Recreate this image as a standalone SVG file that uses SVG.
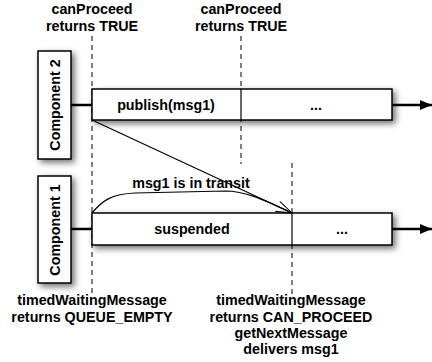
<svg xmlns="http://www.w3.org/2000/svg" width="432" height="362" viewBox="0 0 432 362">
  <style>
    text { font-family: "Liberation Sans", Arial, Helvetica, sans-serif; font-weight: bold; font-size: 14.3px; fill: #000; text-anchor: middle; }
    .box { fill: #fff; stroke: #000; stroke-width: 1.5; filter: url(#shadow); }
    .div { stroke: #000; stroke-width: 1.2; }
    .dash { stroke: #000; stroke-width: 1; stroke-dasharray: 5 4; fill: none; }
    .link { stroke: #000; stroke-width: 2.5; }
    .flow { stroke: #000; stroke-width: 2.5; marker-end: url(#solid); }
    .msg { stroke: #000; stroke-width: 1.2; fill: none; }
  </style>
  <defs>
    <filter id="shadow" x="-20%" y="-20%" width="150%" height="160%">
      <feDropShadow dx="3" dy="3" stdDeviation="3" flood-color="#000" flood-opacity="0.55"/>
    </filter>
    <marker id="solid" markerWidth="12" markerHeight="10" refX="12" refY="5" orient="auto" markerUnits="userSpaceOnUse">
      <path d="M0,0 L12,5 L0,10 Z" fill="#000"/>
    </marker>
    <marker id="open" markerWidth="20" markerHeight="14" refX="19" refY="7" orient="auto" markerUnits="userSpaceOnUse">
      <path d="M3,1.5 L19,7 L3,12.5" fill="none" stroke="#000" stroke-width="1"/>
    </marker>
  </defs>

  <!-- time markers -->
  <g id="timelines">
    <line class="dash" x1="92" y1="36" x2="92" y2="296"/>
    <line class="dash" x1="241" y1="36" x2="241" y2="164"/>
    <line class="dash" x1="292" y1="163" x2="292" y2="296"/>
  </g>

  <g id="component2">
    <rect class="box" x="38" y="51" width="33" height="108"/>
    <text transform="translate(60,105) rotate(-90)">Component 2</text>
  </g>

  <g id="component1">
    <rect class="box" x="38" y="176" width="33" height="107"/>
    <text transform="translate(60,230) rotate(-90)">Component 1</text>
  </g>

  <g id="lane2">
    <rect class="box" x="92" y="89" width="300" height="31"/>
    <line class="div" x1="241" y1="89" x2="241" y2="120"/>
    <text x="166" y="110">publish(msg1)</text>
    <text x="316" y="110">...</text>
  </g>

  <g id="lane1">
    <rect class="box" x="92" y="213" width="300" height="32"/>
    <line class="div" x1="292" y1="213" x2="292" y2="245"/>
    <text x="192" y="234">suspended</text>
    <text x="342" y="234">...</text>
  </g>

  <g id="connectors">
    <line class="link" x1="71" y1="105" x2="92" y2="105"/>
    <line class="link" x1="71" y1="229" x2="92" y2="229"/>
    <line class="flow" x1="392" y1="105" x2="432" y2="105"/>
    <line class="flow" x1="392" y1="229" x2="432" y2="229"/>
    <line class="msg" x1="92" y1="120" x2="292" y2="213" marker-end="url(#open)"/>
    <path class="msg" d="M92,213 C102,201 111,194 135,193 L225,191 C245,191 262,199 292,213"/>
  </g>

  <g id="labels">
    <text x="191" y="188">msg1 is in transit</text>
    <text x="92" y="14">canProceed</text>
    <text x="92" y="31">returns TRUE</text>
    <text x="241" y="14">canProceed</text>
    <text x="241" y="31">returns TRUE</text>
    <text x="92" y="305">timedWaitingMessage</text>
    <text x="92" y="322">returns QUEUE_EMPTY</text>
    <text x="291" y="305">timedWaitingMessage</text>
    <text x="291" y="322">returns CAN_PROCEED</text>
    <text x="291" y="338">getNextMessage</text>
    <text x="291" y="354">delivers msg1</text>
  </g>
</svg>
